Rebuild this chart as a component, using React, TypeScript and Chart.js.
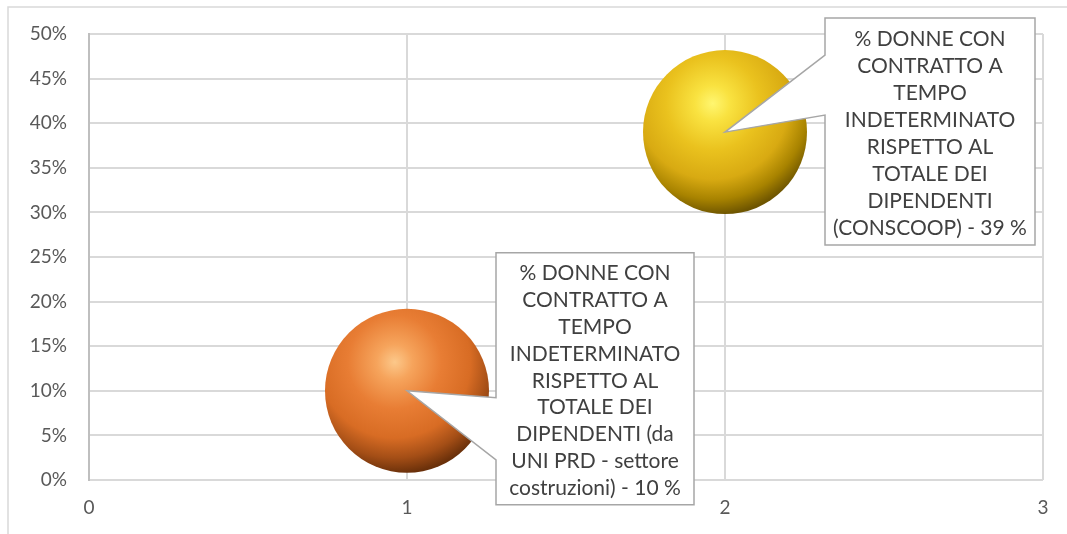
import React, { useEffect, useRef } from "react";
import { Chart, registerables } from "chart.js";

Chart.register(...registerables);

// ---- data ----
const seriesNames = [
  "% DONNE CON CONTRATTO A TEMPO INDETERMINATO RISPETTO AL TOTALE DEI DIPENDENTI (da UNI PRD - settore costruzioni)",
  "% DONNE CON CONTRATTO A TEMPO INDETERMINATO RISPETTO AL TOTALE DEI DIPENDENTI (CONSCOOP)",
];
const xValues = [1, 2];
const yValues = [0.1, 0.39];
const bubbleRadius = [82, 82];
const labelLines = [
  ["% DONNE CON", "CONTRATTO A", "TEMPO", "INDETERMINATO", "RISPETTO AL", "TOTALE DEI", "DIPENDENTI (da", "UNI PRD - settore", "costruzioni) - 10 %"],
  ["% DONNE CON", "CONTRATTO A", "TEMPO", "INDETERMINATO", "RISPETTO AL", "TOTALE DEI", "DIPENDENTI", "(CONSCOOP) - 39 %"],
];
const xMin = 0;
const xMax = 3;
const xStep = 1;
const yMin = 0;
const yMax = 0.5;
const yStep = 0.05;

// ---- styles ----
const FONT = "Lato, 'Noto Sans', sans-serif";
const gradientStops = [
  [
    [0, "#fcc88a"],
    [0.16, "#f6a45c"],
    [0.42, "#e87d34"],
    [0.68, "#d86c24"],
    [0.86, "#a44e16"],
    [1, "#6a300a"],
  ],
  [
    [0, "#fff670"],
    [0.16, "#f9e240"],
    [0.42, "#eac21e"],
    [0.68, "#d8aa12"],
    [0.86, "#a88300"],
    [1, "#6e5500"],
  ],
];
const flatColors = ["#e87d34", "#eac21e"];
const calloutBoxes = [
  { dx: 89, dy: -138, w: 198, h: 252, pTop: 145, pBot: 207 },
  { dx: 100, dy: -114, w: 210, h: 227, pTop: 37, pBot: 97 },
];

const calloutPlugin = {
  id: "callouts",
  afterDatasetsDraw(chart: any, _args: any, opts: any) {
    const ctx = chart.ctx;
    chart.data.datasets.forEach((_ds: any, di: number) => {
      const meta = chart.getDatasetMeta(di);
      meta.data.forEach((el: any) => {
        const b = opts.boxes[di];
        const L = el.x + b.dx;
        const T = el.y + b.dy;
        const R = L + b.w;
        const B = T + b.h;
        ctx.save();
        ctx.beginPath();
        ctx.moveTo(L, T);
        ctx.lineTo(R, T);
        ctx.lineTo(R, B);
        ctx.lineTo(L, B);
        ctx.lineTo(L, T + b.pBot);
        ctx.lineTo(el.x, el.y);
        ctx.lineTo(L, T + b.pTop);
        ctx.closePath();
        ctx.fillStyle = "#ffffff";
        ctx.fill();
        ctx.strokeStyle = "#a6a6a6";
        ctx.lineWidth = 1.5;
        ctx.stroke();
        const lines: string[] = opts.lines[di];
        const lh = 26.9;
        const blockTop = T + (b.h - lines.length * lh) / 2 + 2;
        ctx.fillStyle = "#404040";
        ctx.font = `21px ${FONT}`;
        ctx.textAlign = "center";
        ctx.textBaseline = "middle";
        lines.forEach((ln, i) => {
          ctx.fillText(ln, L + b.w / 2, blockTop + lh * i + lh / 2);
        });
        ctx.restore();
      });
    });
  },
};

const borderPlugin = {
  id: "outerBorder",
  beforeDraw(chart: any) {
    const ctx = chart.ctx;
    ctx.save();
    ctx.fillStyle = "#ffffff";
    ctx.fillRect(0, 0, chart.width, chart.height);
    ctx.strokeStyle = "#d9d9d9";
    ctx.lineWidth = 1.5;
    ctx.strokeRect(8, 7, chart.width + 20, chart.height + 20);
    ctx.restore();
  },
};

function makeGradient(c: any, di: number) {
  const chart = c.chart;
  const raw = c.raw;
  const xs = chart.scales?.x;
  const ys = chart.scales?.y;
  if (!raw || !xs || !ys) return flatColors[di];
  const cx = xs.getPixelForValue(raw.x);
  const cy = ys.getPixelForValue(raw.y);
  const r = raw.r;
  if (!isFinite(cx) || !isFinite(cy)) return flatColors[di];
  const hx = cx - 0.15 * r;
  const hy = cy - 0.35 * r;
  const g = chart.ctx.createRadialGradient(hx, hy, 0, hx, hy, 1.36 * r);
  gradientStops[di].forEach(([o, col]) => g.addColorStop(o as number, col as string));
  return g;
}

export default function App() {
  const ref = useRef<HTMLCanvasElement>(null);
  useEffect(() => {
    if (!ref.current) return;
    const datasets = xValues.map((x, i) => ({
      label: seriesNames[i],
      data: [{ x, y: yValues[i], r: bubbleRadius[i] }],
      backgroundColor: (c: any) => makeGradient(c, i),
      borderWidth: 0,
      hoverBorderWidth: 0,
      clip: false as any,
    }));
    const chart = new Chart(ref.current, {
      type: "bubble",
      data: { datasets },
      plugins: [borderPlugin, calloutPlugin],
      options: {
        animation: false,
        responsive: true,
        maintainAspectRatio: false,
        layout: { autoPadding: false, padding: { top: 34, right: 24, left: 0, bottom: 0 } },
        plugins: {
          legend: { display: false },
          tooltip: { enabled: false },
          // @ts-ignore
          callouts: { boxes: calloutBoxes, lines: labelLines },
        },
        scales: {
          x: {
            type: "linear",
            min: xMin,
            max: xMax,
            ticks: {
              stepSize: xStep,
              color: "#595959",
              font: { family: FONT, size: 19 },
              padding: 16,
            },
            grid: { color: "#d9d9d9", lineWidth: 2, drawTicks: false },
            border: { display: false },
            afterFit: (s: any) => {
              s.height = 54;
            },
          },
          y: {
            type: "linear",
            min: yMin,
            max: yMax,
            ticks: {
              stepSize: yStep,
              color: "#595959",
              font: { family: FONT, size: 19 },
              padding: 22,
              callback: (v: any) => `${Math.round(Number(v) * 100)}%`,
            },
            grid: { color: "#d9d9d9", lineWidth: 2, drawTicks: false },
            border: { display: true, color: "#bfbfbf", width: 2 },
            afterFit: (s: any) => {
              s.width = 89;
            },
          },
        },
      },
    });
    return () => chart.destroy();
  }, []);
  return (
    <div style={{ position: "fixed", left: 0, top: 0, width: 1067, height: 534, background: "#fff" }}>
      <canvas ref={ref} />
    </div>
  );
}
